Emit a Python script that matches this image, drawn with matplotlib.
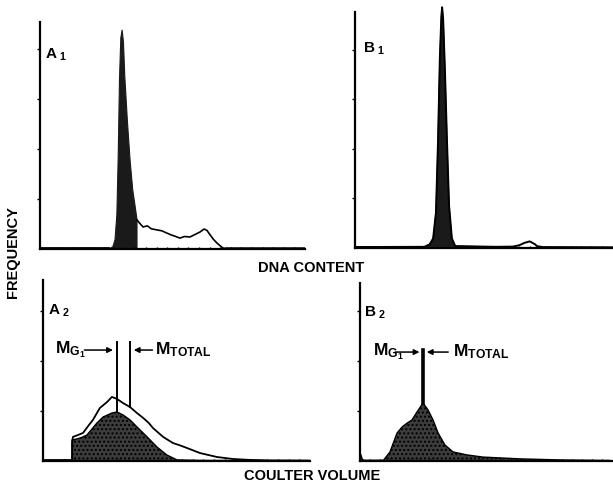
import matplotlib
matplotlib.use("Agg")
import matplotlib.pyplot as plt

# histogram traces, x = channel (0-100), y = relative count
a1_g1_x = [26, 27.5, 28.3, 29, 29.5, 30, 30.5, 31, 31.5, 32, 33, 34, 35, 36, 36.6, 36.6]
a1_g1_y = [0, 1, 4, 15, 40, 75, 93, 96.5, 91, 76, 56, 39, 26, 18, 13, 0]
a1_s_x = [36.6, 37.5, 38.9, 40.5, 42, 44.2, 46, 47.9, 49.5, 51, 52.8, 54.5, 56.6, 58.5,
          60.4, 61.9, 63, 64.2, 65.5, 66.8, 68, 69.1, 70.2]
a1_s_y = [12.8, 11.5, 9.7, 10.2, 8.9, 8.4, 8.0, 7.0, 6.2, 5.6, 4.8, 5.5, 5.3, 6.4,
          7.5, 8.8, 8.2, 6.2, 4.2, 2.6, 1.4, 0.4, 0.2]

b1_x = [0, 27, 29, 30.4, 31.5, 32.3, 33, 33.6, 33.9, 34.3, 35, 35.8, 36.6, 37.7, 39, 55,
        61.5, 64, 66, 68, 70, 70.8, 73, 100]
b1_y = [0.4, 0.5, 1.5, 4, 15, 45, 80, 98, 102, 97, 75, 45, 18, 4, 0.8, 0.5,
        0.6, 1.2, 2.2, 2.8, 1.6, 0.8, 0.4, 0.3]

a2_tot_x = [10.9, 10.9, 11.2, 13, 15.0, 17, 18.7, 21.3, 24.0, 25.8, 27.7, 30.0, 32.6, 35.2,
            37.5, 39.5, 41.2, 45.0, 48.7, 51, 53.9, 58.8, 65.2, 71.2, 77.5, 85, 100]
a2_tot_y = [0, 9.9, 13.3, 14.3, 15.5, 19.5, 22.7, 29.3, 32.6, 35.4, 34.3, 32.0, 29.8, 26.5,
            23.8, 21.2, 18.2, 13.3, 9.9, 8.8, 7.2, 4.4, 2.2, 1.1, 0.6, 0.3, 0.2]
a2_g1_x = [10.9, 10.9, 12.7, 14.5, 16.5, 20.2, 22.5, 25.8, 27.7, 30.0, 32.6, 35.2, 39.0,
           42.7, 46.4, 50.2, 60, 100]
a2_g1_y = [0, 11.6, 12.2, 13.0, 14.4, 21.0, 24.3, 26.5, 27.1, 25.4, 22.7, 18.8, 13.3,
           7.7, 3.3, 0.6, 0.3, 0.2]

b2_spike_x = [0, 0.8, 1.5, 9.1]
b2_spike_y = [4.5, 1, 0.3, 0.3]
b2_x = [9.1, 11.9, 14.7, 16.7, 18.7, 20.6, 22.6, 25.0, 27.0, 29.0, 31.0, 33.7, 36.9,
        42.5, 48.8, 63.5, 79.4, 99.2, 99.2]
b2_y = [0, 5.1, 15.7, 19.1, 21.3, 23.0, 27.5, 32.6, 28.7, 23.0, 15.7, 9.0, 5.1,
        3.4, 2.2, 1.2, 0.6, 0.3, 0]

# mean markers (channel, line top)
a2_mg1 = (27.7, 65.7)
a2_mtot = (32.6, 65.7)
b2_mean = (25.0, 62.4)

W, H = 613, 484
plt.rcParams['font.family'] = ['Liberation Sans', 'DejaVu Sans']
plt.rcParams['font.weight'] = 'bold'
plt.rcParams['mathtext.fontset'] = 'custom'
plt.rcParams['mathtext.bf'] = 'Liberation Sans:bold'
plt.rcParams['mathtext.rm'] = 'Liberation Sans:bold'
plt.rcParams['mathtext.it'] = 'Liberation Sans:bold'
fig = plt.figure(figsize=(W / 100, H / 100), dpi=100)


def panel(left, right, base, top, ytick_step):
    ax = fig.add_axes([left / W, 1 - base / H, (right - left) / W, (base - top) / H])
    ax.set_xlim(0, 100)
    ax.set_ylim(0, 100)
    for s in ['top', 'right']:
        ax.spines[s].set_visible(False)
    for s in ['left', 'bottom']:
        ax.spines[s].set_linewidth(1.6)
    ax.set_xticks(range(4, 100, 4))
    ax.set_yticks([ytick_step * k for k in range(1, int(100 / ytick_step) + 1)])
    ax.tick_params(axis='x', direction='in', length=1.5, width=1, labelbottom=False)
    ax.tick_params(axis='y', direction='out', length=2, width=1, labelleft=False)
    ax.patch.set_alpha(0)
    return ax


def label(ax, x, y, txt):
    ax.text(x, y, txt, fontsize=11, va='baseline')


def mean_label(ax, x, y, g1_arrow, tot_arrow, tot_x):
    ax.text(x, y, r'$\mathbf{M_{G_1}}$', fontsize=12.5, va='center')
    for x0, x1 in (g1_arrow, tot_arrow):
        ax.annotate('', xy=(x1, y), xytext=(x0, y),
                    arrowprops=dict(arrowstyle='-|>', lw=1.1, color='black',
                                    mutation_scale=8, shrinkA=0, shrinkB=0))
    ax.text(tot_x, y, r'$\mathbf{M_{TOTAL}}$', fontsize=12.5, va='center')


# A1
ax = panel(40, 305, 249, 22, 22)
ax.plot([0, 26], [0.3, 0.3], color='black', lw=1.3)
ax.fill(a1_g1_x, a1_g1_y, color='#1a1a1a', lw=0.8)
ax.plot(a1_s_x, a1_s_y, color='black', lw=1.2)
ax.plot([70, 100], [0.3, 0.3], color='black', lw=1.8)
label(ax, 2, 84, r'$\mathbf{A_{\ 1}}$')

# B1
ax = panel(355, 612, 248, 12, 21)
ax.fill(b1_x[:16], b1_y[:16], color='#1a1a1a', lw=0.8, clip_on=False)
ax.plot(b1_x, b1_y, color='black', lw=1.4, clip_on=False)
label(ax, 3, 83, r'$\mathbf{B_{\ 1}}$')

# A2
ax = panel(43, 310, 461, 280, 27.6)
ax.fill(a2_g1_x, a2_g1_y, facecolor='#3c3c3c', edgecolor='black', hatch='....', lw=1.0)
ax.plot(a2_tot_x, a2_tot_y, color='black', lw=1.3)
ax.plot([0, 10.9], [0.3, 0.3], color='black', lw=1.3)
ax.plot([a2_mg1[0]] * 2, [a2_g1_y[8], a2_mg1[1]], color='black', lw=1.4)
ax.plot([a2_mtot[0]] * 2, [a2_tot_y[12], a2_mtot[1]], color='black', lw=1.4)
label(ax, 2, 81, r'$\mathbf{A_{\ 2}}$')
mean_label(ax, 4.5, 61.3, (15.5, 26.2), (41.0, 34.0), 42)

# B2
ax = panel(360, 612, 461, 283, 28)
ax.plot(b2_spike_x, b2_spike_y, color='black', lw=1.3)
ax.fill(b2_x, b2_y, facecolor='#3c3c3c', edgecolor='black', hatch='....', lw=1.0)
ax.plot([b2_mean[0]] * 2, [b2_y[7], b2_mean[1]], color='black', lw=2.6)
label(ax, 1.5, 81, r'$\mathbf{B_{\ 2}}$')
mean_label(ax, 5, 61.2, (14.0, 23.6), (35.0, 26.5), 37)

fig.text(311 / W, 1 - 268 / H, 'DNA CONTENT', ha='center', va='center', fontsize=10.5,
         fontweight='bold')
fig.text(312 / W, 1 - 476 / H, 'COULTER VOLUME', ha='center', va='center', fontsize=10.5,
         fontweight='bold')
fig.text(13 / W, 1 - 252 / H, 'FREQUENCY', ha='center', va='center', rotation=90,
         fontsize=10.5, fontweight='bold')

fig.savefig('out.png', dpi=100)
